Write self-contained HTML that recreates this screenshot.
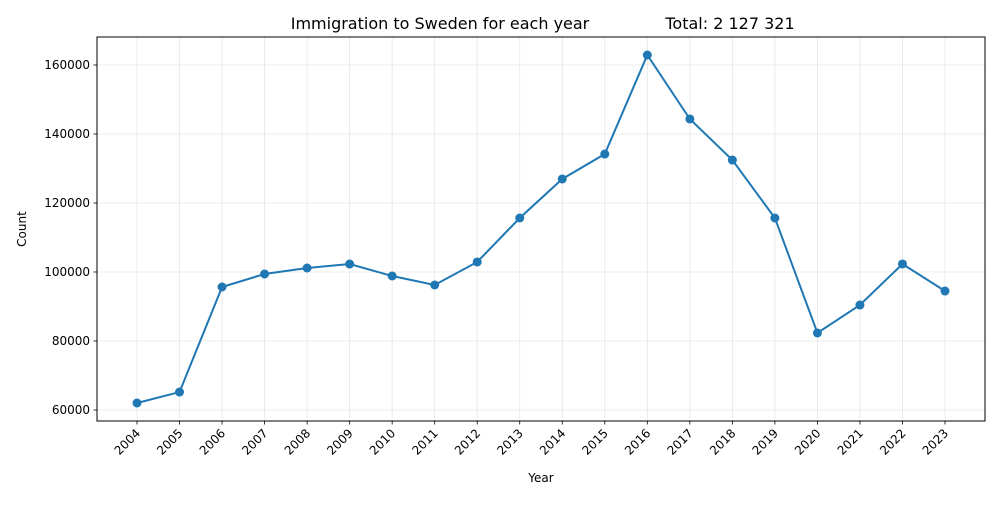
<!DOCTYPE html>
<html><head><meta charset="utf-8"><style>
body{margin:0;background:#fff;font-family:"Liberation Sans","DejaVu Sans",sans-serif;}
svg text{font-family:"DejaVu Sans","Liberation Sans",sans-serif;}
</style></head><body>
<svg id="chart" width="1000" height="500" xmlns="http://www.w3.org/2000/svg">
<rect width="1000" height="500" fill="#fff"/>
<text x="440" y="29" font-size="16" text-anchor="middle">Immigration to Sweden for each year</text>
<text x="730" y="29" font-size="16" text-anchor="middle">Total: 2 127 321</text>
<g id="grid"></g><g id="axes"></g><g id="series"></g>
<rect x="97" y="37" width="888" height="384" fill="none" stroke="#000" stroke-width="1"/>
<text x="541" y="482" font-size="12" text-anchor="middle">Year</text>
<text x="26" y="229" font-size="12" text-anchor="middle" transform="rotate(-90 26 229)">Count</text>
</svg>
<script>
const years=[2004,2005,2006,2007,2008,2009,2010,2011,2012,2013,2014,2015,2016,2017,2018,2019,2020,2021,2022,2023];
const counts=[62028,65200,95650,99420,101160,102300,98840,96230,102900,115650,126960,134200,162900,144350,132460,115650,82320,90430,102320,94490];
const yTicks=[60000,80000,100000,120000,140000,160000];
const NS="http://www.w3.org/2000/svg";
const L=97,R=985,T=37,B=421;
const yMin=56810,yMax=168116;
const xFirst=137,xLast=945;
function xs(i){return xFirst+(xLast-xFirst)*i/(years.length-1);}
function ys(v){return B-(v-yMin)/(yMax-yMin)*(B-T);}
function mk(tag,attrs,parent){const e=document.createElementNS(NS,tag);for(const k in attrs)e.setAttribute(k,attrs[k]);parent.appendChild(e);return e;}
const grid=document.getElementById('grid'),axes=document.getElementById('axes'),ser=document.getElementById('series');
yTicks.forEach(v=>{const y=ys(v);
 const g=mk('line',{x1:L,x2:R,y1:y,y2:y,stroke:'#b0b0b0','stroke-width':0.8,'stroke-opacity':0.3},grid);
 
 
 const t=mk('line',{x1:L-3.5,x2:L,y1:y,y2:y,stroke:'#000','stroke-width':0.8},axes);
 
 
 const tx=mk('text',{x:L-7,y:y+4,'font-size':12,'text-anchor':'end'},axes);tx.textContent=v;
 
 
});
years.forEach((yr,i)=>{const x=xs(i);
 const g=mk('line',{x1:x,x2:x,y1:T,y2:B,stroke:'#b0b0b0','stroke-width':0.8,'stroke-opacity':0.3},grid);
 
 
 const t=mk('line',{x1:x,x2:x,y1:B,y2:B+3.5,stroke:'#000','stroke-width':0.8},axes);
 
 
 const tx=mk('text',{x:x+4,y:B+13,'font-size':12,'text-anchor':'end',transform:`rotate(-45 ${x+4} ${B+13})`},axes);tx.textContent=yr;
 
 
});
const pl=mk('polyline',{points:counts.map((v,i)=>xs(i)+','+ys(v)).join(' '),fill:'none',stroke:'#1f77b4','stroke-width':2},ser);


counts.forEach((v,i)=>{const c=mk('circle',{cx:xs(i),cy:ys(v),r:4.5,fill:'#1f77b4'},ser);
 
 
});
</script>
</body></html>
